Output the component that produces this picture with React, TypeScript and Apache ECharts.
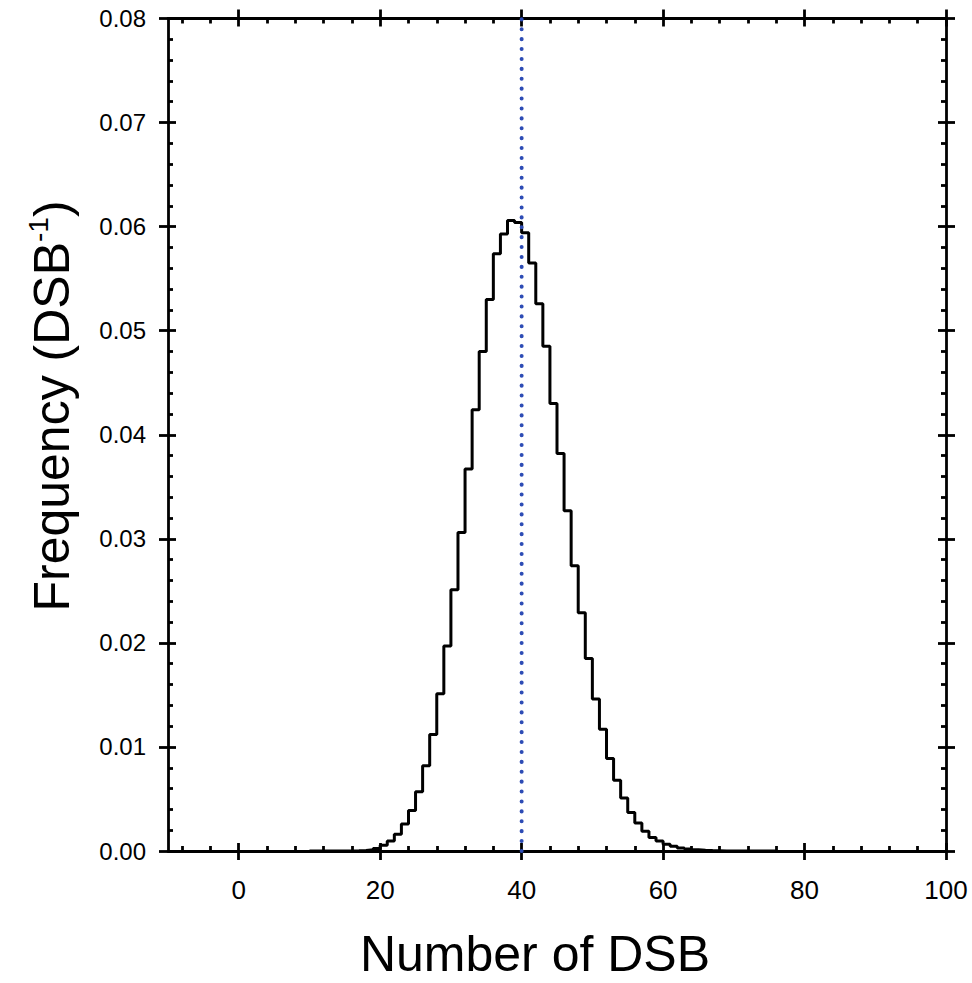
import React, { useEffect, useRef } from 'react';
import * as echarts from 'echarts';

// Histogram bins (left edge of each 1-DSB-wide bin) and their frequency
const binStarts = [
  10, 11, 12, 13, 14, 15, 16, 17, 18, 19,
  20, 21, 22, 23, 24, 25, 26, 27, 28, 29,
  30, 31, 32, 33, 34, 35, 36, 37, 38, 39,
  40, 41, 42, 43, 44, 45, 46, 47, 48, 49,
  50, 51, 52, 53, 54, 55, 56, 57, 58, 59,
  60, 61, 62, 63, 64, 65, 66, 67, 68, 69,
  70, 71, 72, 73, 74, 75,
];
const frequency = [
  0, 0, 0, 0, 0, 0.00001, 0.00003, 0.00006, 0.00012, 0.00025,
  0.00055, 0.00097, 0.0016, 0.0026, 0.0039, 0.0057, 0.0082, 0.0112, 0.0151, 0.0197,
  0.0251, 0.0306, 0.0367, 0.0424, 0.048, 0.053, 0.0574, 0.0593, 0.0606, 0.0604,
  0.0594, 0.0565, 0.0526, 0.0485, 0.043, 0.0382, 0.0327, 0.0274, 0.0229, 0.0185,
  0.0146, 0.0117, 0.0089, 0.0068, 0.0051, 0.0037, 0.0027, 0.0019, 0.0013, 0.00095,
  0.00065, 0.00045, 0.0003, 0.0002, 0.00012, 0.00008, 0.00005, 0.00003, 0.00001, 0,
  0, 0, 0, 0, 0, 0,
];
const binWidth = 1;
const meanDSB = 40;
const xTickValues = [0, 20, 40, 60, 80, 100];
const xRange = [-10, 100];
const yRange = [0, 0.08];
const xTitle = 'Number of DSB';

const BLACK = '#000';
const FONT = '"Liberation Sans", Arial, Helvetica, sans-serif';

export default function App() {
  const ref = useRef<HTMLDivElement>(null);

  useEffect(() => {
    if (!ref.current) return;
    const chart = echarts.init(ref.current, null, { renderer: 'svg' });

    const stepData: number[][] = binStarts.map((s, i) => [s, frequency[i]]);
    stepData.push([binStarts[binStarts.length - 1] + binWidth, 0]);

    const grid = { left: 168, right: 26, top: 18.5, bottom: 132, outerBoundsMode: 'none' };

    const xBase = (gridIndex: number, position: string, inside: boolean, labels: boolean) => ({
      type: 'value',
      gridIndex,
      position,
      min: xRange[0],
      max: xRange[1],
      minInterval: 20,
      maxInterval: 20,
      axisLine: { show: gridIndex === 0, onZero: false, lineStyle: { color: BLACK, width: 2.8 } },
      axisTick: {
        show: true,
        inside,
        length: inside ? 8 : 9,
        customValues: xTickValues,
        lineStyle: { color: BLACK, width: 2.8 },
      },
      minorTick: {
        show: gridIndex === 0,
        splitNumber: 5,
        length: 5,
        lineStyle: { color: BLACK, width: 2.8 },
      },
      splitLine: { show: false },
      minorSplitLine: { show: false },
      axisLabel: {
        show: labels,
        customValues: xTickValues,
        margin: 26,
        color: BLACK,
        fontFamily: FONT,
        fontSize: 26,
      },
    });

    const yBase = (gridIndex: number, position: string, inside: boolean, labels: boolean) => ({
      type: 'value',
      gridIndex,
      position,
      min: yRange[0],
      max: yRange[1],
      interval: 0.01,
      axisLine: { show: gridIndex === 0, onZero: false, lineStyle: { color: BLACK, width: 2.8 } },
      axisTick: {
        show: true,
        inside,
        length: inside ? 8 : 9,
        lineStyle: { color: BLACK, width: 2.8 },
      },
      minorTick: {
        show: gridIndex === 0,
        splitNumber: 5,
        length: 5,
        lineStyle: { color: BLACK, width: 2.8 },
      },
      splitLine: { show: false },
      minorSplitLine: { show: false },
      axisLabel: {
        show: labels,
        margin: 22,
        color: BLACK,
        fontFamily: FONT,
        fontSize: 24,
        formatter: (v: number) => v.toFixed(2),
      },
    });

    chart.setOption({
      animation: false,
      backgroundColor: '#fff',
      grid: [grid, { ...grid }],
      xAxis: [
        xBase(0, 'bottom', true, true),
        xBase(0, 'top', true, false),
        xBase(1, 'bottom', false, false),
        xBase(1, 'top', false, false),
      ],
      yAxis: [
        yBase(0, 'left', true, true),
        yBase(0, 'right', true, false),
        yBase(1, 'left', false, false),
        yBase(1, 'right', false, false),
      ],
      series: [
        {
          type: 'line',
          xAxisIndex: 0,
          yAxisIndex: 0,
          step: 'end',
          data: stepData,
          showSymbol: false,
          symbol: 'none',
          lineStyle: { color: BLACK, width: 3 },
          z: 3,
        },
        {
          type: 'line',
          xAxisIndex: 0,
          yAxisIndex: 0,
          data: [
            [meanDSB, yRange[0]],
            [meanDSB, yRange[1]],
          ],
          showSymbol: false,
          symbol: 'none',
          lineStyle: { color: '#2d4cb5', width: 4, type: [0.1, 9.8], cap: 'round' },
          z: 4,
        },
      ],
      graphic: [
        {
          type: 'text',
          x: 535,
          y: 954,
          style: {
            text: xTitle,
            fontFamily: FONT,
            fontSize: 50,
            fill: BLACK,
            align: 'center',
            verticalAlign: 'middle',
          },
        },
        {
          type: 'text',
          x: 52,
          y: 406,
          rotation: Math.PI / 2,
          style: {
            text: '{a|Frequency (DSB}{s|-1}{a|)}',
            align: 'center',
            verticalAlign: 'middle',
            fill: BLACK,
            rich: {
              a: { fontFamily: FONT, fontSize: 50, lineHeight: 56, fill: BLACK },
              s: { fontFamily: FONT, fontSize: 28, lineHeight: 30, verticalAlign: 'top', fill: BLACK },
            },
          },
        },
      ],
    });

    return () => chart.dispose();
  }, []);

  return (
    <div
      ref={ref}
      style={{ position: 'fixed', left: 0, top: 0, width: 972, height: 983, overflow: 'hidden' }}
    />
  );
}
